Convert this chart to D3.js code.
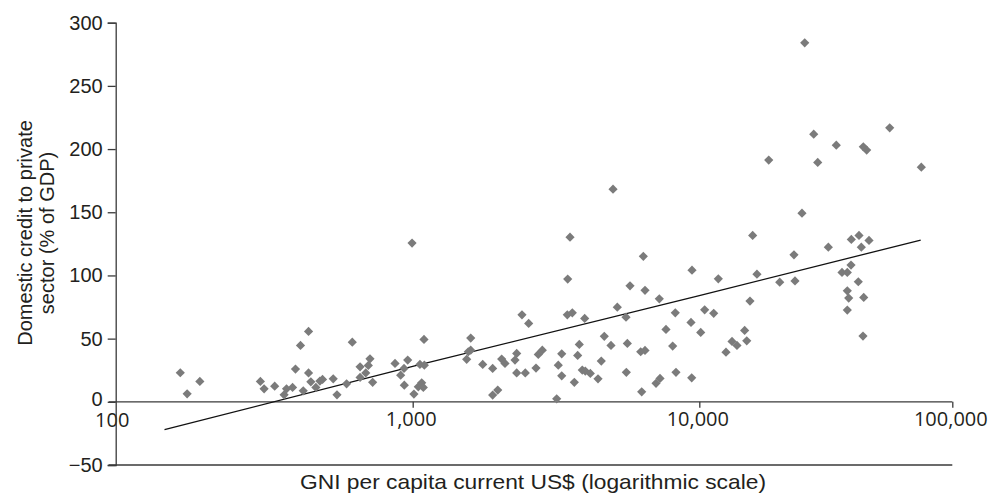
<!DOCTYPE html>
<html>
<head>
<meta charset="utf-8">
<script src="https://cdn.jsdelivr.net/npm/d3@7"></script>
<style>
  html, body { margin: 0; padding: 0; background: #fff; }
  svg { display: block; }
  text { font-family: "Liberation Sans", Arial, sans-serif; fill: #231f20; }
</style>
</head>
<body>
<svg id="chart" width="989" height="494"></svg>
<script>
// ---------- data ----------
const gni = [
  165,174,192,307,316,343,369,376,394,403,419,428,446,446,454,472,487,497,540,556,599,626,665,665,695,709,718,733,
  872,935,962,911,937,1010,1046,1075,1089,1060,1098,1095,1543,1563,1594,1594,1755,1901,1901,1980,2044,2099,2275,2306,2306,2406,2471,2539,2693,2743,2833,3180,3221,3311,3311,3474,3463,3605,3664,3764,3813,3906,3982,4002,4166,4432,4550,4661,4919,5175,5550,5609,5564,5731,6378,6465,6295,6245,6465,7063,7294,7252,7652,8075,8246,8292,
  995,3539,5000,
  25460,16253,42780,39890,46860,32360,43690,23670,39780,9430,36650,38460,16900,11890,20790,23890,42510,38460,38950,44660,15860,10500,38460,11400,9355,10130,15110,44360,13470,14090,15400,12750,9408,
  26100,28330,56570,34790,44490,45870,18810,29380,75430
];
const credit = [
  23,6.3,16.1,16.1,10.3,12.4,5.5,10.3,11.4,25.9,44.6,8.7,55.7,22.9,15.8,11.4,16.4,17.7,18.2,5.5,14.2,47.2,19.3,27.7,22.9,28.8,34.0,15.4,
  30.4,26.4,33.0,21.1,13.2,6.1,11.9,15.0,11.4,29.6,29.0,49.4,33.6,39.6,40.9,50.4,29.6,26.4,5.3,9.3,33.8,30.4,33.0,38.3,22.9,68.8,22.9,62.0,26.7,37.5,40.9,2.4,29.0,38.0,20.6,97.1,68.8,70.4,15.4,36.7,45.4,25.1,66.0,24.3,22.5,18.2,32.2,51.8,44.6,74.9,67.0,46.2,23.3,91.8,115.1,88.2,7.9,39.6,40.7,14.6,18.5,81.5,57.3,44.1,70.4,23.3,
  125.6,130.3,168.3,
  149.3,131.7,131.7,128.5,127.7,122.4,122.4,116.3,108.2,104.2,102.4,102.4,101.0,97.3,94.7,95.7,95.0,87.8,82.1,82.6,79.7,72.8,72.6,70.0,62.8,54.9,56.5,52.0,47.8,44.6,48.3,39.3,19.0,
  284.1,211.8,216.8,203.1,201.8,199.2,191.3,189.4,185.7
];
const trendGni = [146, 1000, 10000, 75000];
const trendCredit = [-22, 28, 84, 128];
const xTicks = [100, 1000, 10000, 100000];
const xTickLabels = ["100", "1,000", "10,000", "100,000"];
const yTicks = [-50, 0, 50, 100, 150, 200, 250, 300];
const yTitle = ["Domestic credit to private", "sector (% of GDP)"];
const xTitle = "GNI per capita current US$ (logarithmic scale)";

// ---------- scales ----------
const svg = d3.select("#chart");
const x = d3.scaleLog()
  .domain([100, 1000, 10000, 100000])
  .range([115.7, 412.7, 699.3, 952.3]);
const y = d3.scaleLinear().domain([-50, 300]).range([465, 22.7]);

const axisColor = "#3a3a3a";

// y axis
const yAxis = svg.append("g")
  .attr("transform", `translate(${x(100)},0)`)
  .call(d3.axisLeft(y).tickValues(yTicks).tickSize(8).tickPadding(5)
    .tickFormat(d => d < 0 ? "\u2212" + Math.abs(d) : d));
yAxis.select(".domain").attr("stroke", axisColor).attr("stroke-width", 1.3);
yAxis.selectAll(".tick line").attr("stroke", axisColor).attr("stroke-width", 1.3);
yAxis.selectAll(".tick text")
  .style("font-family", "'Liberation Sans', Arial, sans-serif")
  .style("font-size", "20px").attr("fill", "#231f20");
yAxis.selectAll(".tick").filter(d => d === 0).select("text").attr("dy", "0.2em");

// zero line (x axis)
const xAxis = svg.append("g")
  .attr("transform", `translate(0,${y(0)})`)
  .call(d3.axisBottom(x).tickValues(xTicks).tickSize(6).tickPadding(6)
    .tickFormat((d, i) => xTickLabels[i]));
xAxis.select(".domain").remove();
xAxis.append("line")
  .attr("x1", x(100) - 7).attr("x2", x(100000))
  .attr("stroke", axisColor).attr("stroke-width", 1.3);
xAxis.selectAll(".tick line").attr("stroke", axisColor).attr("stroke-width", 1.3)
  .attr("display", d => d === 100 ? "none" : null);
xAxis.selectAll(".tick text")
  .style("font-family", "'Open Sans', 'Liberation Sans', sans-serif")
  .style("font-size", "20px").attr("fill", "#231f20")
  .attr("dx", d => d === 100 ? -4 : -2)
  .attr("dy", d => d === 100 ? "0.66em" : "0.6em");
xAxis.lower();

// bottom line at -50
svg.append("line")
  .attr("x1", x(100) - 7).attr("x2", x(100000))
  .attr("y1", y(-50)).attr("y2", y(-50))
  .attr("stroke", axisColor).attr("stroke-width", 1.3);

// trend line
const pts = trendGni.map((g, i) => [g, trendCredit[i]]);
svg.append("path")
  .datum(pts)
  .attr("fill", "none").attr("stroke", "#111").attr("stroke-width", 1.3)
  .attr("d", d3.line().x(d => x(d[0])).y(d => y(d[1])));

// scatter diamonds
const r = 4.6;
svg.append("g").selectAll("path")
  .data(gni.map((g, i) => [g, credit[i]]))
  .join("path")
  .attr("transform", d => `translate(${x(d[0])},${y(d[1])})`)
  .attr("d", `M0,${-r}L${r},0L0,${r}L${-r},0Z`)
  .attr("fill", "#7b7b7b");

// axis titles
const yt = svg.append("text")
  .attr("transform", `translate(32,233) rotate(-90)`)
  .attr("text-anchor", "middle")
  .style("font-size", "20px");
yt.append("tspan").attr("x", 0).attr("dy", 0).text(yTitle[0]);
yt.append("tspan").attr("x", 0).attr("dy", 22).text(yTitle[1]);

svg.append("text")
  .attr("x", 533).attr("y", 489)
  .attr("text-anchor", "middle")
  .attr("textLength", 466)
  .attr("lengthAdjust", "spacingAndGlyphs")
  .style("font-size", "21px")
  .text(xTitle);
</script>
</body>
</html>
